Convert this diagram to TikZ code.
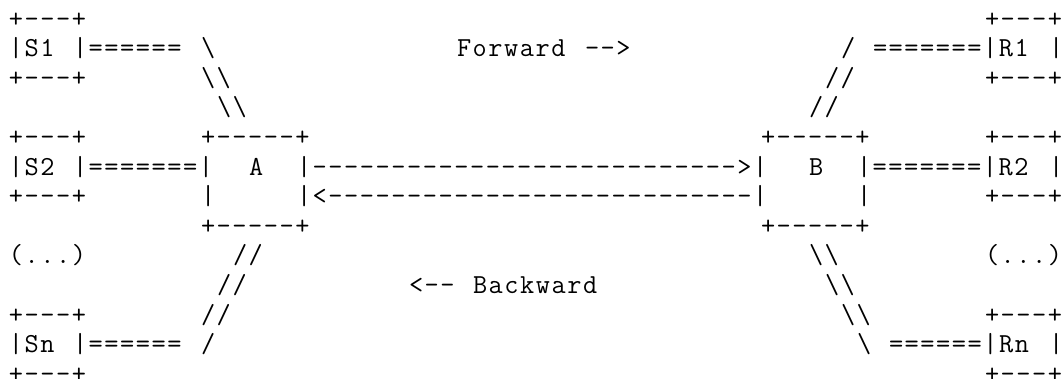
\documentclass[tikz,border=0pt]{standalone}
\usepackage{fontspec}
\setmonofont{Latin Modern Mono}[LetterSpace=5.7]
\newcommand\bs{\textbackslash}
\newcommand\dashes{---------------------------}
\tikzset{txt/.style={anchor=base west, inner sep=0pt, outer sep=0pt,
  font=\ttfamily\fontsize{27.5}{29}\selectfont}}
\newcommand\ch[4]{\node[txt] (#1) at ({9+16*#2},{-27.1-29.6*(#3-1)}) {#4};}
\begin{document}
\begin{tikzpicture}[x=1pt,y=1pt]
\fill[white] (0,0) rectangle (1064,-378);
\useasboundingbox (0,0) rectangle (1064,-378);
% row 1
\ch{ba1}{0}{1}{+---+}
\ch{bb1}{61}{1}{+---+}
% row 2
\ch{s1}{0}{2}{|S1}
\ch{s1r}{4}{2}{|======}
\ch{s1d}{12}{2}{\bs}
\ch{fw}{28}{2}{Forward}
\ch{fwa}{36}{2}{-->}
\ch{r1d}{52}{2}{/}
\ch{r1}{54}{2}{=======|R1}
\ch{r1r}{65}{2}{|}
% row 3
\ch{ba3}{0}{3}{+---+}
\ch{d3a}{12}{3}{\bs\bs}
\ch{d3b}{51}{3}{//}
\ch{bb3}{61}{3}{+---+}
% row 4
\ch{d4a}{13}{4}{\bs\bs}
\ch{d4b}{50}{4}{//}
% row 5
\ch{ba5}{0}{5}{+---+}
\ch{at}{12}{5}{+-----+}
\ch{bt}{47}{5}{+-----+}
\ch{bb5}{61}{5}{+---+}
% row 6
\ch{s2}{0}{6}{|S2}
\ch{s2r}{4}{6}{|=======|}
\ch{a}{15}{6}{A}
\ch{fwd}{18}{6}{|\dashes>|}
\ch{b}{50}{6}{B}
\ch{r2}{53}{6}{|=======|R2}
\ch{r2r}{65}{6}{|}
% row 7
\ch{ba7}{0}{7}{+---+}
\ch{al}{12}{7}{|}
\ch{bwd}{18}{7}{|<\dashes|}
\ch{br}{53}{7}{|}
\ch{bb7}{61}{7}{+---+}
% row 8
\ch{ab}{12}{8}{+-----+}
\ch{bbt}{47}{8}{+-----+}
% row 9
\ch{sdots}{0}{9}{(...)}
\ch{d9a}{14}{9}{//}
\ch{d9b}{50}{9}{\bs\bs}
\ch{rdots}{61}{9}{(...)}
% row 10
\ch{d10a}{13}{10}{//}
\ch{bwa}{25}{10}{<--}
\ch{bw}{29}{10}{Backward}
\ch{d10b}{51}{10}{\bs\bs}
% row 11
\ch{ba11}{0}{11}{+---+}
\ch{d11a}{12}{11}{//}
\ch{d11b}{52}{11}{\bs\bs}
\ch{bb11}{61}{11}{+---+}
% row 12
\ch{sn}{0}{12}{|Sn}
\ch{snr}{4}{12}{|======}
\ch{snd}{12}{12}{/}
\ch{rnd}{53}{12}{\bs}
\ch{rn}{55}{12}{======|Rn}
\ch{rnr}{65}{12}{|}
% row 13
\ch{ba13}{0}{13}{+---+}
\ch{bb13}{61}{13}{+---+}
\end{tikzpicture}
\end{document}
